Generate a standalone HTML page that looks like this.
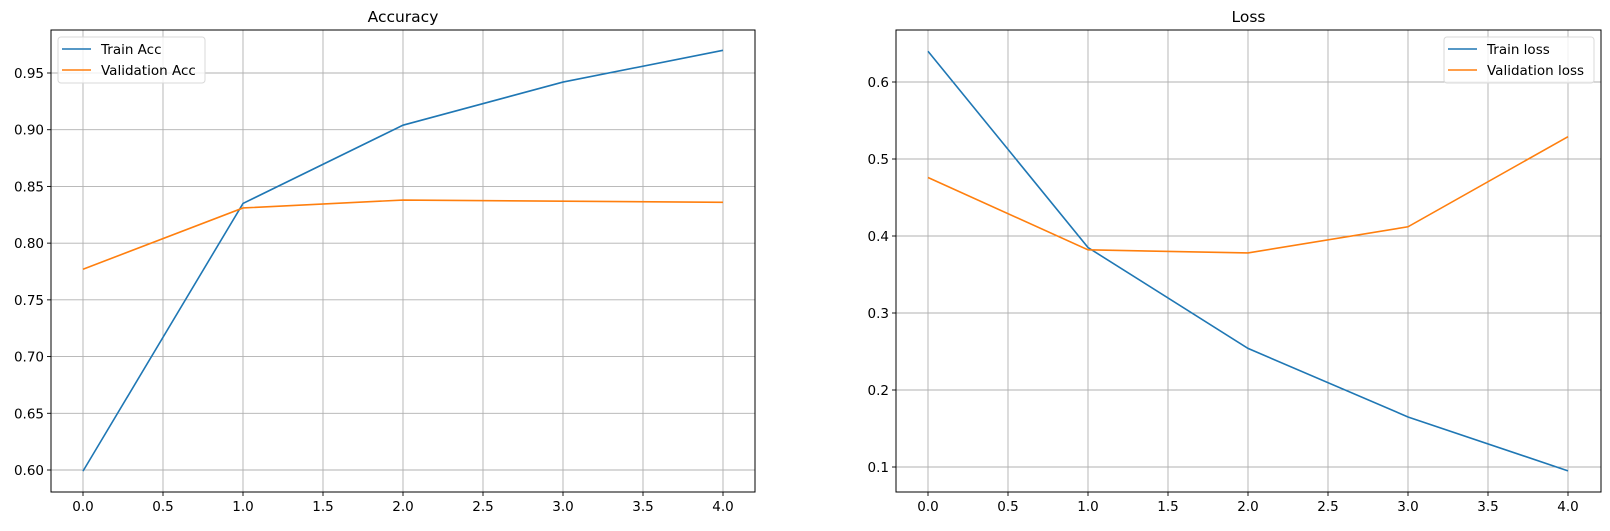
<!DOCTYPE html>
<html><head><meta charset="utf-8"><style>
body{margin:0;background:#fff}
svg text{font-family:"DejaVu Sans","Liberation Sans",sans-serif;fill:#000}
</style></head><body>
<svg id="c" width="1610" height="526" xmlns="http://www.w3.org/2000/svg"></svg>
<script>
const epochs=[0,1,2,3,4];
const trainAcc=[0.599,0.835,0.904,0.942,0.970];
const valAcc=[0.777,0.831,0.838,0.837,0.836];
const trainLoss=[0.640,0.385,0.254,0.165,0.095];
const valLoss=[0.476,0.382,0.378,0.412,0.529];
const xTicks=[0,0.5,1,1.5,2,2.5,3,3.5,4];
const accTicks=[0.60,0.65,0.70,0.75,0.80,0.85,0.90,0.95];
const lossTicks=[0.1,0.2,0.3,0.4,0.5,0.6];
const NS="http://www.w3.org/2000/svg";
const svg=document.getElementById('c');
function mk(t,a,p){const e=document.createElementNS(NS,t);for(const k in a)e.setAttribute(k,a[k]);(p||svg).appendChild(e);return e;}
function panel(o){
  const g=mk('g',{});
  
  
  const X=v=>o.x0px+(v-0)*(o.x4px-o.x0px)/4;
  const Y=v=>o.ya.px+(v-o.ya.v)*(o.yb.px-o.ya.px)/(o.yb.v-o.ya.v);
  xTicks.forEach(t=>{
    const l=mk('line',{x1:X(t),x2:X(t),y1:o.top,y2:o.bot,stroke:'#b0b0b0','stroke-width':0.9},g);
    
    mk('line',{x1:X(t),x2:X(t),y1:o.bot,y2:o.bot+4,stroke:'#000','stroke-width':0.9},g);
    const tx=mk('text',{x:X(t),y:o.bot+19,'text-anchor':'middle','font-size':13.5},g);tx.textContent=t.toFixed(1);
    
  });
  o.yTicks.forEach(t=>{
    const l=mk('line',{x1:o.left,x2:o.right,y1:Y(t),y2:Y(t),stroke:'#b0b0b0','stroke-width':0.9},g);
    
    mk('line',{x1:o.left-4,x2:o.left,y1:Y(t),y2:Y(t),stroke:'#000','stroke-width':0.9},g);
    const tx=mk('text',{x:o.left-7,y:Y(t)+5,'text-anchor':'end','font-size':13.5},g);tx.textContent=t.toFixed(o.dec);
    
  });
  o.series.forEach(s=>{
    const p=mk('polyline',{points:epochs.map((e,i)=>X(e)+','+Y(s.v[i])).join(' '),fill:'none',stroke:s.c,'stroke-width':1.6},g);
    
  });
  const fr=mk('rect',{x:o.left,y:o.top,width:o.right-o.left,height:o.bot-o.top,fill:'none',stroke:'#000','stroke-width':1},g);
  
  const t=mk('text',{x:(o.left+o.right)/2,y:22,'text-anchor':'middle','font-size':15.5},g);t.textContent=o.title;
  
  const lg=mk('g',{},g);
  
  mk('rect',{x:o.lg[0],y:o.lg[1],width:o.lg[2],height:46,rx:3,fill:'#fff','fill-opacity':0.8,stroke:'#d9d9d9'},lg);
  o.series.forEach((s,i)=>{
    const yy=o.lg[1]+12+i*21;
    mk('line',{x1:o.lg[0]+4,x2:o.lg[0]+33,y1:yy,y2:yy,stroke:s.c,'stroke-width':1.6},lg);
    const lt=mk('text',{x:o.lg[0]+43,y:yy+5,'font-size':13.5},lg);lt.textContent=s.label;
    
  });
}
panel({name:'accuracy-chart',title:'Accuracy',left:51,right:755,top:30,bot:492,x0px:83,x4px:723,
  ya:{v:0.60,px:470},yb:{v:0.95,px:73},yTicks:accTicks,dec:2,lg:[58,37,147],
  series:[{id:'train-acc-line',v:trainAcc,c:'#1f77b4',label:'Train Acc'},{id:'val-acc-line',v:valAcc,c:'#ff7f0e',label:'Validation Acc'}]});
panel({name:'loss-chart',title:'Loss',left:896,right:1601,top:30,bot:492,x0px:928,x4px:1568,
  ya:{v:0.1,px:467},yb:{v:0.6,px:82},yTicks:lossTicks,dec:1,lg:[1444,37,150],
  series:[{id:'train-loss-line',v:trainLoss,c:'#1f77b4',label:'Train loss'},{id:'val-loss-line',v:valLoss,c:'#ff7f0e',label:'Validation loss'}]});
</script>
</body></html>
